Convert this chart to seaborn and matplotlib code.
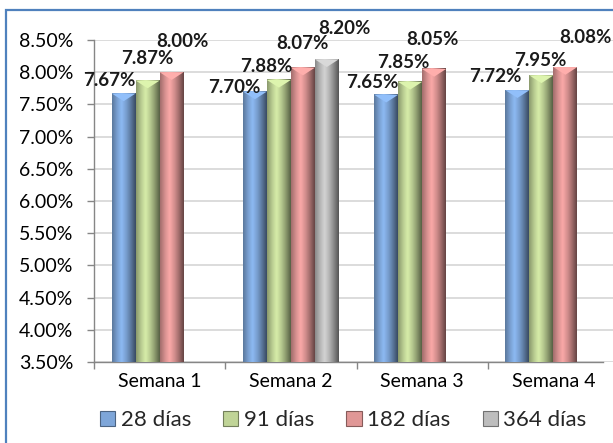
import numpy as np
import pandas as pd
import matplotlib
matplotlib.use("Agg")
import matplotlib.pyplot as plt
import seaborn as sns
from matplotlib.colors import LinearSegmentedColormap, to_rgb
from matplotlib.patches import Rectangle, Polygon

# ---- data ----
weeks = ["Semana 1", "Semana 2", "Semana 3", "Semana 4"]
series_names = ["28 días", "91 días", "182 días", "364 días"]
rate_28 = [7.67, 7.70, 7.65, 7.72]
rate_91 = [7.87, 7.88, 7.85, 7.95]
rate_182 = [8.00, 8.07, 8.05, 8.08]
rate_364 = [np.nan, 8.20, np.nan, np.nan]
y_ticks = [3.5, 4.0, 4.5, 5.0, 5.5, 6.0, 6.5, 7.0, 7.5, 8.0, 8.5]

series_values = [rate_28, rate_91, rate_182, rate_364]
rows = []
for name, vals in zip(series_names, series_values):
    for w, v in zip(weeks, vals):
        rows.append({"Semana": w, "Plazo": name, "Tasa": v})
df = pd.DataFrame(rows)

# ---- style ----
base_colors = ["#7ea6d9", "#c0d497", "#e09796", "#bdbdbd"]
palette = dict(zip(series_names, base_colors))
# label offsets in pixels (dx, dy) relative to top-centre of each bar (layout only)
label_offsets = {
    (0, 0): (-14, 13), (0, 1): (0, 22), (0, 2): (11, 31),
    (1, 0): (-21, 4), (1, 1): (-13, 13), (1, 2): (0, 24), (1, 3): (18, 31),
    (2, 0): (-14, 12), (2, 1): (-7, 19), (2, 2): (-2, 29),
    (3, 0): (-22, 14), (3, 1): (-1, 15), (3, 2): (20, 30),
}

sns.set_theme(style="white")
plt.rcParams["font.family"] = ["Lato", "DejaVu Sans"]

W, H = 613, 443
fig = plt.figure(figsize=(W / 100, H / 100), dpi=100)
ax_left, ax_right = 94, 619
ax_top, ax_bottom = 40, 362
ax = fig.add_axes([ax_left / W, (H - ax_bottom) / H,
                   (ax_right - ax_left) / W, (ax_bottom - ax_top) / H])

bar_width = 0.73
sns.barplot(data=df, x="Semana", y="Tasa", hue="Plazo", order=weeks,
            hue_order=series_names, palette=palette, width=bar_width,
            gap=0, ax=ax, legend=False, saturation=1,
            edgecolor="none", linewidth=0, zorder=3)

y_lo, y_hi = 3.5, 8.5
ax.set_xlim(-0.5, 3.5)
ax.set_ylim(y_lo, y_hi)

# shading to mimic the bevelled 3D columns
def shade_cmap(c):
    r = np.array(to_rgb(c))
    stops = [r * 0.72, r * 0.95, np.minimum(r * 1.12, 1), r * 0.95,
             r * 0.72, r * 0.45]
    return LinearSegmentedColormap.from_list("s", [tuple(np.clip(s, 0, 1)) for s in stops])

seg = bar_width / len(series_names)
grad = np.linspace(0, 1, 64).reshape(1, -1)
for p in list(ax.patches):
    h = p.get_height()
    if not np.isfinite(h) or h == 0:
        continue
    x0 = p.get_x()
    w = p.get_width()
    xc = x0 + w / 2
    cat = int(round(xc))
    hi = int(round((xc - (cat - bar_width / 2)) / seg - 0.5))
    top = p.get_y() + h
    y0 = max(p.get_y(), y_lo)
    col = base_colors[hi]
    im = ax.imshow(grad, extent=[x0, x0 + w, y0, top], aspect="auto",
                   cmap=shade_cmap(col), zorder=3.5, interpolation="bicubic")
    # light bevel triangle at top
    r = np.array(to_rgb(col))
    tri = Polygon([[x0, top], [x0 + w, top], [xc, top - 0.12]], closed=True,
                  facecolor=tuple(np.minimum(r * 1.15, 1)), edgecolor="none",
                  zorder=3.6)
    ax.add_patch(tri)
    val = series_values[hi][cat]
    dx, dy = label_offsets.get((cat, hi), (0, 12))
    ax.annotate(f"{val:.2f}%", xy=(xc, top), xytext=(dx, dy),
                textcoords="offset pixels", ha="center", va="center",
                fontsize=13.5, fontweight="bold", color="#1a1a1a", zorder=6)

ax.set_xlim(-0.5, 3.5)
ax.set_ylim(y_lo, y_hi)

# grid and axes
ax.set_yticks(y_ticks)
ax.set_yticklabels([f"{t:.2f}%" for t in y_ticks])
ax.yaxis.grid(True, color="#d9d9d9", linewidth=1.3, zorder=0)
ax.xaxis.grid(False)
ax.set_axisbelow(True)
ax.set_xlabel("")
ax.set_ylabel("")

ax.set_xticks([-0.5, 0.5, 1.5, 2.5, 3.5])
ax.set_xticklabels([])
ax.set_xticks([0, 1, 2, 3], minor=True)
ax.set_xticklabels(weeks, minor=True)
ax.tick_params(axis="x", which="major", length=5, width=1, color="#868686",
               direction="out", bottom=True)
ax.tick_params(axis="x", which="minor", length=0, pad=8, labelsize=14,
               labelcolor="#000000")
ax.tick_params(axis="y", length=5, width=1, color="#868686", direction="out",
               left=True, pad=10, labelsize=14, labelcolor="#000000")

for s in ["top", "right"]:
    ax.spines[s].set_visible(False)
ax.spines["left"].set_color("#868686")
ax.spines["bottom"].set_color("#868686")
ax.spines["left"].set_linewidth(1)
ax.spines["bottom"].set_linewidth(1)
ax.spines["bottom"].set_bounds(-0.5, 3.38)

# legend
handles = [Rectangle((0, 0), 1, 1, facecolor=c, edgecolor=tuple(np.array(to_rgb(c)) * 0.6),
                     linewidth=0.8) for c in base_colors]
fig.legend(handles, series_names, loc="center left",
           bbox_to_anchor=(100 / W, 1 - 420 / H), bbox_transform=fig.transFigure,
           ncol=4, frameon=False, fontsize=16, handlelength=0.68,
           handleheight=0.68, handletextpad=0.25, columnspacing=1.45,
           borderpad=0, borderaxespad=0)

# outer blue border
fig.patches.append(Rectangle((6 / W, -0.1), 2, 1.1 - 10 / H, transform=fig.transFigure,
                             fill=False, edgecolor="#4f81bd", linewidth=1.6, zorder=10))

fig.savefig("out.png", dpi=100)
